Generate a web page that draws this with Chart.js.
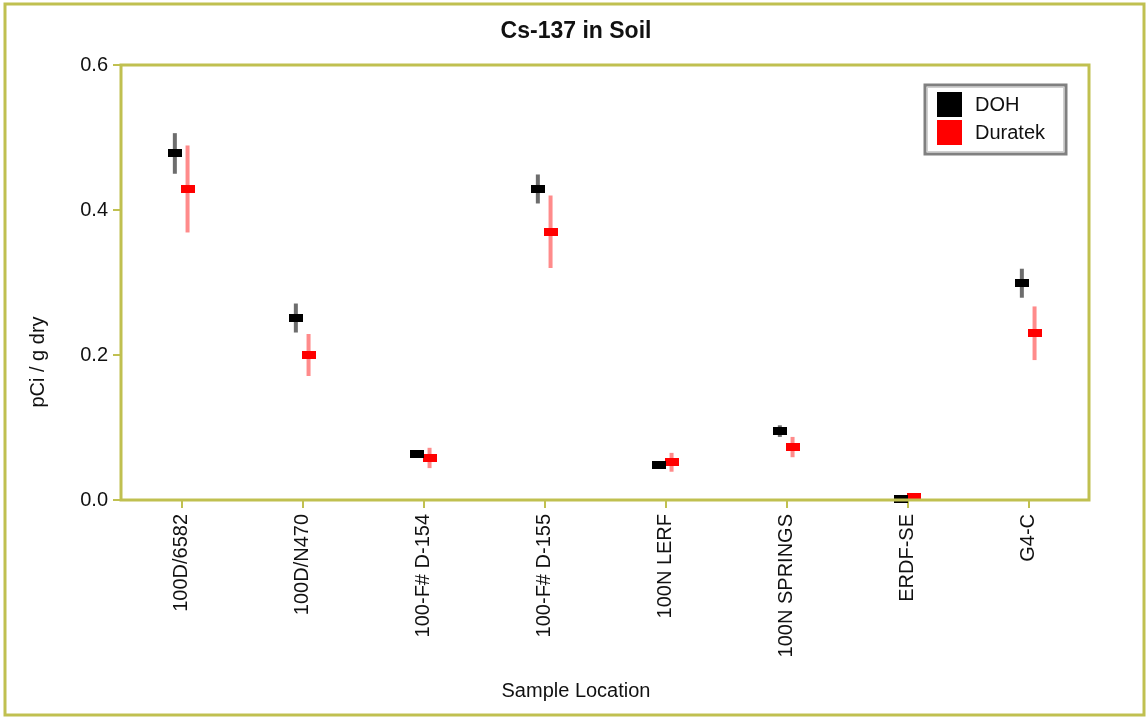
<!DOCTYPE html>
<html>
<head>
<meta charset="utf-8">
<script src="https://cdn.jsdelivr.net/npm/chart.js@4/dist/chart.umd.min.js"></script>
<style>
html,body{margin:0;padding:0;background:#fff;}
#wrap{width:1148px;height:718px;position:relative;}
</style>
</head>
<body>
<div id="wrap"><canvas id="c" width="1148" height="718"></canvas></div>
<script>
const chartTitle = 'Cs-137 in Soil';
const xAxisTitle = 'Sample Location';
const yAxisTitle = 'pCi / g dry';
const categories = ['100D/6582', '100D/N470', '100-F# D-154', '100-F# D-155', '100N LERF', '100N SPRINGS', 'ERDF-SE', 'G4-C'];
const dohValues = [0.478, 0.251, 0.063, 0.429, 0.048, 0.095, 0.002, 0.299];
const dohErrors = [0.028, 0.02, 0.004, 0.02, 0.003, 0.008, 0.002, 0.02];
const duratekValues = [0.429, 0.200, 0.058, 0.370, 0.052, 0.073, 0.004, 0.230];
const duratekErrors = [0.06, 0.029, 0.014, 0.05, 0.013, 0.014, 0.003, 0.037];
const yTickValues = [0, 0.2, 0.4, 0.6];
const seriesNames = ['DOH', 'Duratek'];

const OLIVE = '#c0c050';
const FONT = "'Liberation Sans', Arial, sans-serif";

function markerImage(color) {
  const c = document.createElement('canvas');
  c.width = 14; c.height = 8;
  const g = c.getContext('2d');
  g.fillStyle = color;
  g.fillRect(0, 0, 14, 8);
  return c;
}

const seriesDefs = [
  {name: seriesNames[0], values: dohValues, errors: dohErrors, offset: -0.055, color: '#000000', errColor: 'rgba(60,60,60,0.75)'},
  {name: seriesNames[1], values: duratekValues, errors: duratekErrors, offset: 0.05, color: '#ff0000', errColor: 'rgba(255,90,90,0.7)'}
];

const datasets = seriesDefs.map(s => ({
  type: 'scatter',
  label: s.name,
  data: s.values.map((v, i) => ({x: i + s.offset, y: v})),
  errors: s.errors,
  errColor: s.errColor,
  legendColor: s.color,
  pointStyle: markerImage(s.color),
  pointRadius: 7,
  pointHoverRadius: 7,
  showLine: false,
  clip: false
}));

const decor = {
  id: 'decor',
  beforeDraw(chart) {
    const ctx = chart.ctx;
    ctx.save();
    ctx.fillStyle = '#fff';
    ctx.fillRect(0, 0, chart.width, chart.height);
    ctx.restore();
  },
  beforeDatasetsDraw(chart) {
    const ctx = chart.ctx;
    const y = chart.scales.y;
    ctx.save();
    chart.data.datasets.forEach((ds, di) => {
      const meta = chart.getDatasetMeta(di);
      ctx.strokeStyle = ds.errColor;
      ctx.lineWidth = 4;
      ds.data.forEach((p, i) => {
        const e = ds.errors[i];
        const px = meta.data[i].x;
        const top = y.getPixelForValue(p.y + e);
        const bot = y.getPixelForValue(Math.max(0, p.y - e));
        ctx.beginPath();
        ctx.moveTo(px, top);
        ctx.lineTo(px, bot);
        ctx.stroke();
      });
    });
    ctx.restore();
  },
  afterDraw(chart) {
    const ctx = chart.ctx;
    const a = chart.chartArea;
    ctx.save();
    ctx.strokeStyle = OLIVE;
    ctx.lineWidth = 3;
    ctx.strokeRect(a.left, a.top, a.right - a.left, a.bottom - a.top);
    ctx.strokeRect(5, 4, chart.width - 9, chart.height - 7);
    ctx.fillStyle = '#111';
    ctx.textAlign = 'center';
    ctx.textBaseline = 'middle';
    ctx.font = 'bold 23px ' + FONT;
    ctx.fillText(chartTitle, 576, 32);
    ctx.font = '20px ' + FONT;
    ctx.fillText(xAxisTitle, 576, 691);
    ctx.save();
    ctx.translate(38, 362);
    ctx.rotate(-Math.PI / 2);
    ctx.fillText(yAxisTitle, 0, 0);
    ctx.restore();
    const lx = 925, ly = 85, lw = 141, lh = 69;
    ctx.fillStyle = '#fff';
    ctx.fillRect(lx, ly, lw, lh);
    ctx.strokeStyle = '#808080';
    ctx.lineWidth = 3;
    ctx.strokeRect(lx, ly, lw, lh);
    ctx.strokeStyle = '#d0d0d0';
    ctx.lineWidth = 1;
    ctx.strokeRect(lx + 2.5, ly + 2.5, lw - 5, lh - 5);
    ctx.textAlign = 'left';
    ctx.font = '20px ' + FONT;
    chart.data.datasets.forEach((ds, i) => {
      const top = 92 + i * 28;
      ctx.fillStyle = ds.legendColor;
      ctx.fillRect(937, top, 25, 25);
      ctx.fillStyle = '#111';
      ctx.fillText(ds.label, 975, top + 13);
    });
    ctx.restore();
  }
};

new Chart(document.getElementById('c'), {
  type: 'scatter',
  data: {datasets},
  options: {
    responsive: false,
    animation: false,
    devicePixelRatio: 1,
    layout: {padding: {left: 0, top: 65, right: 59, bottom: 0}},
    plugins: {legend: {display: false}, title: {display: false}, tooltip: {enabled: false}},
    scales: {
      x: {
        type: 'linear',
        min: -0.5,
        max: categories.length - 0.5,
        afterBuildTicks(axis) { axis.ticks = categories.map((_, i) => ({value: i})); },
        afterFit(axis) { axis.height = 218; },
        border: {display: false},
        grid: {drawOnChartArea: false, drawTicks: true, tickLength: 8, color: OLIVE, lineWidth: 2},
        ticks: {
          autoSkip: false,
          minRotation: 90,
          maxRotation: 90,
          padding: 6,
          color: '#111',
          font: {family: FONT, size: 20},
          callback: v => categories[Math.round(v)] || ''
        }
      },
      y: {
        min: 0,
        max: 0.6,
        afterBuildTicks(axis) { axis.ticks = yTickValues.map(v => ({value: v})); },
        afterFit(axis) { axis.width = 121; },
        border: {display: false},
        grid: {drawOnChartArea: false, drawTicks: true, tickLength: 8, color: OLIVE, lineWidth: 2},
        ticks: {
          padding: 5,
          color: '#111',
          font: {family: FONT, size: 20},
          callback: v => Number(v).toFixed(1)
        }
      }
    }
  },
  plugins: [decor]
});
</script>
</body>
</html>
